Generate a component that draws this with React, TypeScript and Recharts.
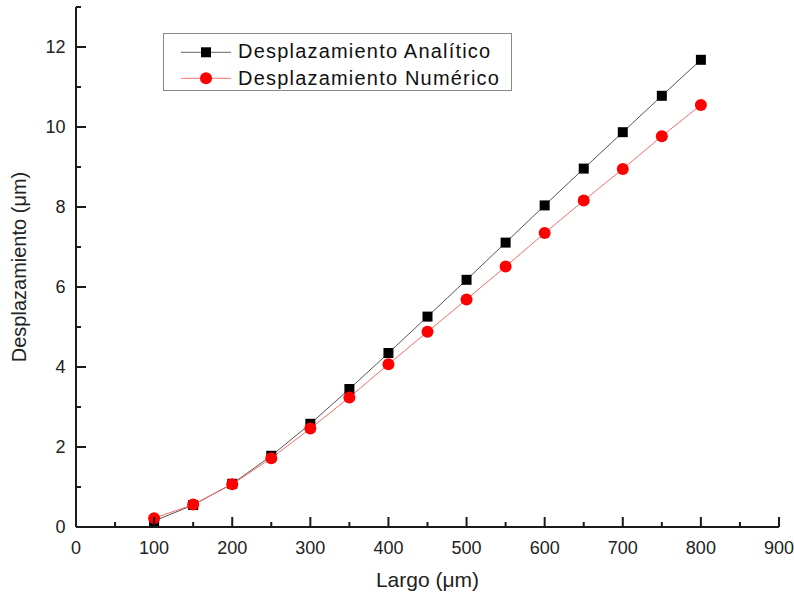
import React from 'react';
import { ComposedChart, Line, XAxis, YAxis, Legend, Label } from 'recharts';

const largo = [100, 150, 200, 250, 300, 350, 400, 450, 500, 550, 600, 650, 700, 750, 800];
const analitico = [0.15, 0.55, 1.08, 1.78, 2.58, 3.45, 4.35, 5.26, 6.18, 7.11, 8.04, 8.96, 9.87, 10.78, 11.68];
const numerico = [0.22, 0.56, 1.07, 1.72, 2.46, 3.24, 4.07, 4.88, 5.69, 6.51, 7.35, 8.16, 8.95, 9.77, 10.55];
const xTicks = [0, 50, 100, 150, 200, 250, 300, 350, 400, 450, 500, 550, 600, 650, 700, 750, 800, 850, 900];
const yTicks = [0, 1, 2, 3, 4, 5, 6, 7, 8, 9, 10, 11, 12, 13];
const seriesNames = ['Desplazamiento Analítico', 'Desplazamiento Numérico'];

const data = largo.map((l, i) => ({ largo: l, a: analitico[i], n: numerico[i] }));

const FONT = '"Liberation Sans", Arial, sans-serif';
const AX = '#1a1a1a';

const BottomTick = (p: any) => {
  const v = p.payload.value;
  const major = v % 100 === 0;
  return (
    <g>
      <line x1={p.x} x2={p.x} y1={p.y} y2={p.y - (major ? 10 : 5)} stroke={AX} strokeWidth={2} />
      {major && (
        <text x={p.x} y={p.y + 26.5} textAnchor="middle" fontSize={18} fontFamily={FONT} fill="#222">{v}</text>
      )}
    </g>
  );
};
const TopTick = (p: any) => {
  const v = p.payload.value;
  const major = v % 100 === 0;
  return <line x1={p.x} x2={p.x} y1={p.y} y2={p.y + (major ? 10 : 5)} stroke={AX} strokeWidth={2} />;
};
const LeftTick = (p: any) => {
  const v = p.payload.value;
  const major = v % 2 === 0;
  return (
    <g>
      <line x1={p.x} x2={p.x + (major ? 10 : 5)} y1={p.y} y2={p.y} stroke={AX} strokeWidth={2} />
      {major && (
        <text x={p.x - 10.5} y={p.y + 6.3} textAnchor="end" fontSize={18} fontFamily={FONT} fill="#222">{v}</text>
      )}
    </g>
  );
};
const RightTick = (p: any) => {
  const v = p.payload.value;
  const major = v % 2 === 0;
  return <line x1={p.x} x2={p.x - (major ? 10 : 5)} y1={p.y} y2={p.y} stroke={AX} strokeWidth={2} />;
};

const Square = (p: any) => {
  if (p.cx == null || p.cy == null) return <g key={p.key} />;
  return <rect key={p.key} x={p.cx - 5} y={p.cy - 5} width={10} height={10} fill="#000" />;
};
const Circle = (p: any) => {
  if (p.cx == null || p.cy == null) return <g key={p.key} />;
  return <circle key={p.key} cx={p.cx} cy={p.cy} r={6} fill="#ff0000" />;
};

const LegendBox = () => (
  <svg width={350} height={59} style={{ display: 'block' }}>
    <rect x={0.5} y={0.5} width={348} height={57} fill="#fff" stroke="#888" strokeWidth={1} />
    <line x1={18} x2={68} y1={19.3} y2={19.3} stroke="#666" strokeWidth={1} />
    <rect x={38} y={14.3} width={10} height={10} fill="#000" />
    <text x={75} y={24.5} fontSize={20} letterSpacing={1.2} fontFamily={FONT} fill="#111">{seriesNames[0]}</text>
    <line x1={18} x2={68} y1={45.3} y2={45.3} stroke="#ff7070" strokeWidth={1} />
    <circle cx={43} cy={45.3} r={6} fill="#ff0000" />
    <text x={75} y={52} fontSize={20} letterSpacing={1.2} fontFamily={FONT} fill="#111">{seriesNames[1]}</text>
  </svg>
);

export default function App() {
  return (
    <div style={{ position: 'absolute', left: 0, top: 0, background: '#fff' }}>
      <ComposedChart width={794} height={596} data={data} margin={{ top: 7, right: 15, left: 0, bottom: 1 }}>
        <XAxis
          dataKey="largo"
          type="number"
          domain={[0, 900]}
          ticks={xTicks}
          interval={0}
          height={68}
          tickSize={0}
          tickMargin={0}
          tick={BottomTick}
          tickLine={false}
          axisLine={{ stroke: AX, strokeWidth: 2 }}
        >
          <Label
            content={(lp: any) => {
              const vb = lp.viewBox;
              return (
                <text x={vb.x + vb.width / 2} y={vb.y + 59.5} textAnchor="middle" fontSize={21} fontFamily={FONT} fill="#222">
                  Largo (μm)
                </text>
              );
            }}
          />
        </XAxis>
        <XAxis
          xAxisId="top"
          orientation="top"
          dataKey="largo"
          type="number"
          domain={[0, 900]}
          ticks={xTicks}
          interval={0}
          height={0}
          tickSize={0}
          tickMargin={0}
          tick={TopTick}
          tickLine={false}
          axisLine={{ stroke: AX, strokeWidth: 2 }}
        />
        <YAxis
          type="number"
          domain={[0, 13]}
          ticks={yTicks}
          interval={0}
          width={76}
          tickSize={0}
          tickMargin={0}
          tick={LeftTick}
          tickLine={false}
          axisLine={{ stroke: AX, strokeWidth: 2 }}
        >
          <Label
            content={(lp: any) => {
              const vb = lp.viewBox;
              const cy = vb.y + vb.height / 2;
              return (
                <text x={26} y={cy} transform={`rotate(-90, 26, ${cy})`} textAnchor="middle" fontSize={20} fontFamily={FONT} fill="#222">
                  Desplazamiento (μm)
                </text>
              );
            }}
          />
        </YAxis>
        <YAxis
          yAxisId="r"
          orientation="right"
          type="number"
          domain={[0, 13]}
          ticks={yTicks}
          interval={0}
          width={0}
          tickSize={0}
          tickMargin={0}
          tick={RightTick}
          tickLine={false}
          axisLine={{ stroke: AX, strokeWidth: 2 }}
        />
        <Legend
          layout="vertical"
          align="center"
          verticalAlign="middle"
          content={() => <LegendBox />}
          wrapperStyle={{ left: 163, top: 33, width: 350, height: 59 }}
        />
        <Line
          dataKey="a"
          name={seriesNames[0]}
          stroke="#555"
          strokeWidth={1}
          dot={Square}
          activeDot={false}
          isAnimationActive={false}
        />
        <Line
          dataKey="n"
          name={seriesNames[1]}
          stroke="#ff6a6a"
          strokeWidth={1}
          dot={Circle}
          activeDot={false}
          isAnimationActive={false}
        />
      </ComposedChart>
    </div>
  );
}
